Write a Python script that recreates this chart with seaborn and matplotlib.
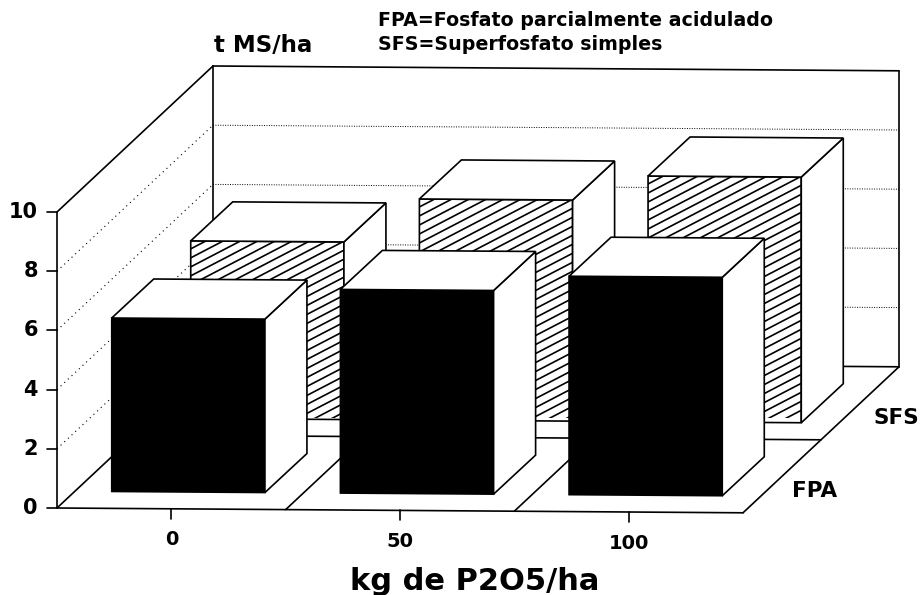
import numpy as np
import pandas as pd
import seaborn as sns
import matplotlib.pyplot as plt
from matplotlib.collections import LineCollection
from matplotlib.patches import Polygon
from matplotlib.path import Path
from matplotlib.transforms import Affine2D

doses = ['0', '50', '100']
fpa_values = [5.86, 6.88, 7.38]
sfs_values = [6.0, 7.47, 8.3]
y_ticks = [0, 2, 4, 6, 8, 10]
depth_labels = ['FPA', 'SFS']

W, H = 924, 595
SHEAR = 0.007
PX_PER_UNIT = 29.6
PLANE_W = 686
DEPTH = (156, -146)
BAR_DEPTH = (42, -39)
LW = 1.2

sns.set_style('white')
plt.rcParams['font.family'] = ['DejaVu Sans']
plt.rcParams['font.weight'] = 'bold'
plt.rcParams['text.color'] = 'black'

fig = plt.figure(figsize=(W / 100, H / 100), dpi=100)

# image pixels (y down) -> display
to_px = Affine2D().scale(1, -1).translate(0, H)

canvas = fig.add_axes([0, 0, 1, 1], zorder=0)
canvas.set_xlim(0, W)
canvas.set_ylim(H, 0)
canvas.axis('off')


def wall_y(x, y0, x0=57):
    return y0 + SHEAR * (x - x0)


def seg(x0, y0, x1, y1, **kw):
    kw.setdefault('color', 'black')
    kw.setdefault('lw', LW)
    canvas.plot([x0, x1], [y0, y1], solid_capstyle='round', **kw)


x0, y0 = 57, 508
x1, y1 = x0 + PLANE_W, wall_y(x0 + PLANE_W, y0)
dx, dy = DEPTH

# floor
seg(x0, y0, x1, y1)
seg(x1, y1, x1 + dx, y1 + dy)
seg(x0 + dx, y0 + dy, x1 + dx, y1 + dy)
seg(x0 + dx / 2, y0 + dy / 2, x1 + dx / 2, y1 + dy / 2)
for i in range(3):
    xs = x0 + i * PLANE_W / 3
    ys = wall_y(xs, y0)
    seg(xs, ys, xs + dx, ys + dy)

# walls
top = 10 * PX_PER_UNIT
seg(x0, y0, x0, y0 - top)
seg(x0, y0 - top, x0 + dx, y0 + dy - top)
seg(x0 + dx, y0 + dy, x0 + dx, y0 + dy - top)
seg(x0 + dx, y0 + dy - top, x1 + dx, y1 + dy - top)
seg(x1 + dx, y1 + dy, x1 + dx, y1 + dy - top)
for v in y_ticks[1:-1]:
    h = v * PX_PER_UNIT
    canvas.plot([x0, x0 + dx], [y0 - h, y0 + dy - h], color='black', lw=0.8, ls=(0, (1, 3.5)))
    canvas.plot([x0 + dx, x1 + dx], [y0 + dy - h, y1 + dy - h], color='black', lw=0.7, ls=(0, (1, 1.5)))

# ticks and labels
for v in y_ticks:
    h = v * PX_PER_UNIT
    seg(x0 - 10, y0 - h, x0, y0 - h)
    canvas.text(38, y0 - h, str(v), ha='right', va='center', fontsize=15)
for i, d in enumerate(doses):
    xt = x0 + (i + 0.5) * PLANE_W / 3
    yt = wall_y(xt, y0)
    seg(xt, yt, xt, yt + 10)
    canvas.text(xt, yt + 31, d, ha='center', va='center', fontsize=14)

canvas.text(475, 581, 'kg de P2O5/ha', ha='center', va='center', fontsize=22)
canvas.text(263, 45, 't MS/ha', ha='center', va='center', fontsize=16.5)
canvas.text(378, 21, 'FPA=Fosfato parcialmente acidulado', ha='left', va='center', fontsize=13.7)
canvas.text(378, 44, 'SFS=Superfosfato simples', ha='left', va='center', fontsize=13.7)
canvas.text(815, 491, depth_labels[0], ha='center', va='center', fontsize=15.5)
canvas.text(896, 418, depth_labels[1], ha='center', va='center', fontsize=15.5)


def bar_layer(values, left, base, color, zorder, hatched=False):
    ax = fig.add_axes([left / W, (H - base) / H, PLANE_W / W, top / H], zorder=zorder)
    df = pd.DataFrame({'dose': doses, 'y': values})
    sns.barplot(data=df, x='dose', y='y', color=color, saturation=1, width=0.67,
                edgecolor='black', linewidth=LW, ax=ax)
    ax.set_xlim(-0.5, 2.5)
    ax.set_ylim(0, 10)
    ax.axis('off')

    # tilt the plane a little, as in the picture
    anchor = left
    shear = Affine2D(np.array([[1, 0, 0], [-SHEAR, 1, SHEAR * anchor], [0, 0, 1]]))
    tf = ax.transData + shear
    to_img = to_px.inverted()

    for bar in list(ax.patches):
        bar.set_transform(tf)
        bar.set_clip_on(False)
        bx, bw, bh = bar.get_x(), bar.get_width(), bar.get_height()
        corners = tf.transform([(bx, 0), (bx + bw, 0), (bx + bw, bh), (bx, bh)])
        (ax0, ay0), (ax1, ay1), (ax2, ay2), (ax3, ay3) = to_img.transform(corners)
        ddx, ddy = BAR_DEPTH
        side = [(ax1, ay1), (ax2, ay2), (ax2 + ddx, ay2 + ddy), (ax1 + ddx, ay1 + ddy)]
        lid = [(ax3, ay3), (ax2, ay2), (ax2 + ddx, ay2 + ddy), (ax3 + ddx, ay3 + ddy)]
        for face in (side, lid):
            ax.add_patch(Polygon(face, closed=True, facecolor='white', edgecolor='black',
                                 lw=LW, transform=to_px, clip_on=False, zorder=3))
        if hatched:
            lines = []
            slope = 0.52
            for start in np.arange(ay3 - 10, ay0 + (ax1 - ax0) * slope + 10, 9.0):
                lines.append([(ax0, start), (ax1, start - (ax1 - ax0) * slope)])
            lc = LineCollection(lines, colors='black', linewidths=1.2, transform=to_px, zorder=2.5)
            ax.add_collection(lc, autolim=False)
            lc.set_clip_path(Path([(ax0, ay0), (ax1, ay1), (ax2, ay2), (ax3, ay3), (ax0, ay0)]), to_px)
    return ax


bar_layer(sfs_values, 153, 418.2, 'white', 1, hatched=True)
bar_layer(fpa_values, 74, 491.2, 'black', 2)

plt.savefig('out.png', dpi=100)
